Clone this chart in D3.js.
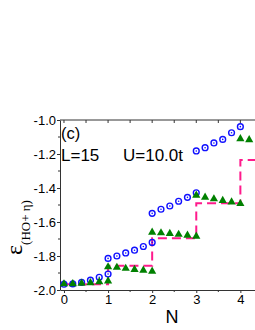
<!DOCTYPE html>
<html lang="en">
<head>
    <meta charset="UTF-8">
    <title>Chart (c)</title>
    <script src="https://d3js.org/d3.v7.min.js"></script>
    <style>
        body { margin: 0; background: #fff; }
        svg { display: block; }
        .tick text { font-family: "Liberation Sans", Arial, sans-serif; font-size: 13px; fill: #000; }
        .domain, .tick line { stroke: #333; }
    </style>
</head>
<body>
    <div id="chart"></div>
    <script>
        // blue circles: four branches
        var blueN = [0, 0.2, 0.4, 0.6, 0.8, 1.0,
                     1.0, 1.2, 1.4, 1.6, 1.8, 2.0,
                     2.0, 2.2, 2.4, 2.6, 2.8, 3.0,
                     3.0, 3.2, 3.4, 3.6, 3.8, 4.0];
        var blueE = [-1.966, -1.964, -1.955, -1.942, -1.925, -1.906,
                     -1.814, -1.800, -1.782, -1.766, -1.744, -1.720,
                     -1.549, -1.525, -1.506, -1.478, -1.455, -1.428,
                     -1.182, -1.163, -1.135, -1.114, -1.075, -1.039];

        // green triangles
        var greenN = [0, 0.2, 0.4, 0.6, 0.8, 1.0,
                      1.0, 1.2, 1.4, 1.6, 1.8, 2.0,
                      2.0, 2.2, 2.4, 2.6, 2.8, 3.0,
                      3.0, 3.2, 3.4, 3.6, 3.8, 4.0,
                      4.0, 4.2];
        var greenE = [-1.962, -1.961, -1.958, -1.955, -1.950, -1.945,
                      -1.862, -1.865, -1.871, -1.877, -1.882, -1.888,
                      -1.658, -1.662, -1.666, -1.671, -1.676, -1.682,
                      -1.441, -1.452, -1.462, -1.472, -1.480, -1.490,
                      -1.108, -1.114];

        // pink dashed step line
        var stepN = [0, 1, 2, 3, 4, 4.45];
        var stepE = [-1.966, -1.857, -1.695, -1.490, -1.235, -1.235];

        var xTicks = [0, 1, 2, 3, 4];
        var yTicks = [-2.0, -1.8, -1.6, -1.4, -1.2, -1.0];

        var W = 255, H = 330;
        var pLeft = 60, pTop = 120, pBottom = 290;

        var svg = d3.select("#chart").append("svg")
            .attr("width", W).attr("height", H);

        var x = d3.scaleLinear().domain([-0.09, 4.5]).range([pLeft, pLeft + 4.59 * 44.1]);
        var y = d3.scaleLinear().domain([-2.0, -1.0]).range([pBottom, pTop]);

        // minor ticks
        var g = svg.append("g");
        g.selectAll("line.mx").data(d3.range(0.5, 4.6, 1)).join("line")
            .attr("x1", d => x(d)).attr("x2", d => x(d))
            .attr("y1", pBottom).attr("y2", pBottom + 2)
            .attr("stroke", "#333");
        g.selectAll("line.tx").data(d3.range(0, 4.6, 0.5)).join("line")
            .attr("x1", d => x(d)).attr("x2", d => x(d))
            .attr("y1", pTop).attr("y2", pTop + 3)
            .attr("stroke", "#333");
        g.selectAll("line.my").data(d3.range(-1.9, -1.0, 0.2)).join("line")
            .attr("x1", pLeft - 2).attr("x2", pLeft)
            .attr("y1", d => y(d)).attr("y2", d => y(d))
            .attr("stroke", "#333");

        // top axis line
        svg.append("line").attr("x1", pLeft).attr("x2", W)
            .attr("y1", pTop).attr("y2", pTop).attr("stroke", "#333");

        svg.append("g").attr("transform", "translate(0," + pBottom + ")")
            .call(d3.axisBottom(x).tickValues(xTicks).tickFormat(d3.format("d"))
                .tickSize(3).tickSizeOuter(0).tickPadding(2));

        svg.append("g").attr("transform", "translate(" + pLeft + ",0)")
            .call(d3.axisLeft(y).tickValues(yTicks).tickFormat(d3.format(".1f"))
                .tickSize(3).tickSizeOuter(0).tickPadding(1));

        svg.selectAll(".tick text").text(function() {
            return d3.select(this).text().replace("\u2212", "-");
        });

        // step line
        var line = d3.line().x(d => x(d[0])).y(d => y(d[1])).curve(d3.curveStepAfter);
        svg.append("path")
            .datum(stepN.map((n, i) => [n, stepE[i]]))
            .attr("d", line)
            .attr("fill", "none")
            .attr("stroke", "#ff1a8c")
            .attr("stroke-width", 2)
            .attr("stroke-dasharray", "9,5");

        // blue markers
        var blue = svg.append("g").selectAll("g").data(blueN).join("g")
            .attr("transform", (d, i) => "translate(" + x(d) + "," + y(blueE[i]) + ")");
        blue.append("circle").attr("r", 2.9).attr("fill", "none")
            .attr("stroke", "#1010ff").attr("stroke-width", 1.4);
        blue.append("circle").attr("r", 0.8).attr("fill", "#1010ff");

        // green triangles
        svg.append("g").selectAll("path").data(greenN).join("path")
            .attr("d", "M0,-4.4L4.1,2.8L-4.1,2.8Z")
            .attr("transform", (d, i) => "translate(" + x(d) + "," + y(greenE[i]) + ")")
            .attr("fill", "#008000");

        // texts
        var sans = "'Liberation Sans', Arial, sans-serif";
        svg.append("text").attr("x", 61).attr("y", 139)
            .attr("font-family", sans).attr("font-size", 16.5).text("(c)");
        svg.append("text").attr("x", 61).attr("y", 161)
            .attr("font-family", sans).attr("font-size", 17).text("L=15");
        svg.append("text").attr("x", 123).attr("y", 161)
            .attr("font-family", sans).attr("font-size", 17).text("U=10.0t");
        svg.append("text").attr("x", 172).attr("y", 323)
            .attr("text-anchor", "middle")
            .attr("font-family", sans).attr("font-size", 18).text("N");

        var yl = svg.append("text")
            .attr("transform", "translate(22,255) rotate(-90)")
            .attr("font-family", "'Liberation Serif', 'Times New Roman', serif");
        yl.append("tspan").attr("font-size", 24).text("\u03b5");
        yl.append("tspan").attr("font-size", 13).attr("dy", 8).text("(HO+ \u03b7)");
    </script>
</body>
</html>
